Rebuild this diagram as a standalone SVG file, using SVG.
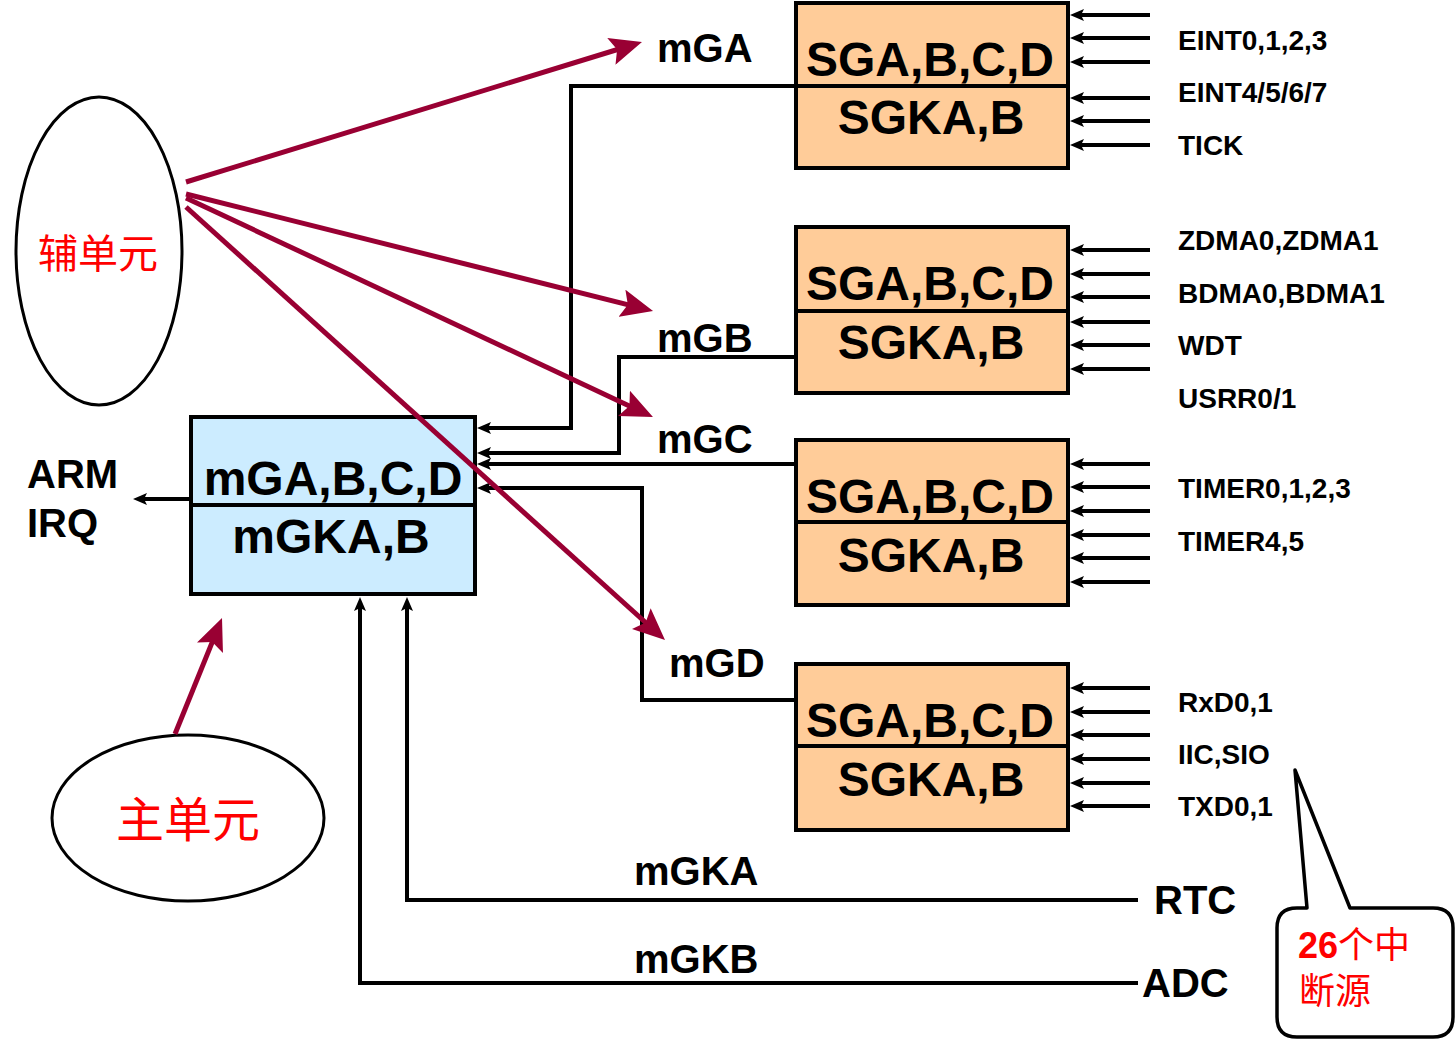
<svg xmlns="http://www.w3.org/2000/svg" width="1455" height="1040" viewBox="0 0 1455 1040">
<style>
.bx{fill:#FFCC99;stroke:#000;stroke-width:4}
.bb{fill:#CCECFF;stroke:#000;stroke-width:4}
.ln{fill:none;stroke:#000;stroke-width:4}
.rl{fill:none;stroke:#990033;stroke-width:5}
.t{font-family:"Liberation Sans",Arial,sans-serif;font-weight:bold;fill:#000}
.big{font-size:48px;text-anchor:middle}
.lab{font-size:40px}
.sig{font-size:28px}
.cj{font-family:"Noto Sans CJK SC",sans-serif;fill:#FF0000}
</style>
<defs>
<marker id="ab" viewBox="0 0 14 12" refX="6" refY="6" markerWidth="14" markerHeight="12" markerUnits="userSpaceOnUse" orient="auto"><path d="M0,0 L14,6 L0,12 L3,6 z" fill="#000"/></marker>
<marker id="ar" viewBox="0 0 32 28" refX="20" refY="14" markerWidth="32" markerHeight="28" markerUnits="userSpaceOnUse" orient="auto"><path d="M0,0 L32,14 L0,28 L6,14 z" fill="#990033"/></marker>
</defs>

<g id="box1">
<rect class="bx" x="796" y="3" width="272" height="165"/>
<line class="ln" x1="796" y1="86" x2="1068" y2="86"/>
<text class="t big" x="930" y="76">SGA,B,C,D</text>
<text class="t big" x="931" y="134">SGKA,B</text>
</g>
<g id="box2">
<rect class="bx" x="796" y="227" width="272" height="166"/>
<line class="ln" x1="796" y1="311" x2="1068" y2="311"/>
<text class="t big" x="930" y="300">SGA,B,C,D</text>
<text class="t big" x="931" y="359">SGKA,B</text>
</g>
<g id="box3">
<rect class="bx" x="796" y="440" width="272" height="165"/>
<line class="ln" x1="796" y1="522" x2="1068" y2="522"/>
<text class="t big" x="930" y="513">SGA,B,C,D</text>
<text class="t big" x="931" y="572">SGKA,B</text>
</g>
<g id="box4">
<rect class="bx" x="796" y="664" width="272" height="166"/>
<line class="ln" x1="796" y1="746" x2="1068" y2="746"/>
<text class="t big" x="930" y="737">SGA,B,C,D</text>
<text class="t big" x="931" y="796">SGKA,B</text>
</g>

<g id="main">
<rect class="bb" x="191" y="417" width="284" height="177"/>
<line class="ln" x1="191" y1="505" x2="477" y2="505"/>
<text class="t big" x="333" y="495">mGA,B,C,D</text>
<text class="t big" x="331" y="553">mGKA,B</text>
</g>

<g id="fu">
<ellipse cx="99" cy="251" rx="83" ry="154" fill="#fff" stroke="#000" stroke-width="3"/>
<text class="cj" x="98" y="268" font-size="40" text-anchor="middle">辅单元</text>
</g>
<g id="zhu">
<ellipse cx="188" cy="818" rx="136" ry="83" fill="#fff" stroke="#000" stroke-width="3"/>
<text class="cj" x="188" y="837" font-size="48" text-anchor="middle">主单元</text>
</g>

<g id="callout">
<path d="M1297,908 L1307,908 L1295,770 L1350,908 L1433,908 Q1453,908 1453,928 L1453,1017 Q1453,1037 1433,1037 L1297,1037 Q1277,1037 1277,1017 L1277,928 Q1277,908 1297,908 z" fill="#fff" stroke="#000" stroke-width="3.5" stroke-linejoin="round"/>
<text x="1298" y="958" font-size="36" fill="#FF0000"><tspan font-family="Liberation Sans,Arial,sans-serif" font-weight="bold">26</tspan><tspan font-family="Noto Sans CJK SC,sans-serif">个中</tspan></text>
<text class="cj" x="1299" y="1004" font-size="36">断源</text>
</g>

<g id="labels">
<text class="t lab" x="27" y="488">ARM</text>
<text class="t lab" x="27" y="537">IRQ</text>
<text class="t lab" x="657" y="62">mGA</text>
<text class="t lab" x="657" y="352">mGB</text>
<text class="t lab" x="657" y="453">mGC</text>
<text class="t lab" x="669" y="677">mGD</text>
<text class="t lab" x="634" y="885">mGKA</text>
<text class="t lab" x="634" y="973">mGKB</text>
<text class="t lab" x="1154" y="914">RTC</text>
<text class="t lab" x="1142" y="997">ADC</text>
<text class="t sig" x="1178" y="50">EINT0,1,2,3</text>
<text class="t sig" x="1178" y="102">EINT4/5/6/7</text>
<text class="t sig" x="1178" y="155">TICK</text>
<text class="t sig" x="1178" y="250">ZDMA0,ZDMA1</text>
<text class="t sig" x="1178" y="303">BDMA0,BDMA1</text>
<text class="t sig" x="1178" y="355">WDT</text>
<text class="t sig" x="1178" y="408">USRR0/1</text>
<text class="t sig" x="1178" y="498">TIMER0,1,2,3</text>
<text class="t sig" x="1178" y="551">TIMER4,5</text>
<text class="t sig" x="1178" y="712">RxD0,1</text>
<text class="t sig" x="1178" y="764">IIC,SIO</text>
<text class="t sig" x="1178" y="816">TXD0,1</text>
</g>

<g id="connectors">
<g class="ln" marker-end="url(#ab)">
<line x1="1150" y1="15" x2="1078" y2="15"/>
<line x1="1150" y1="38" x2="1078" y2="38"/>
<line x1="1150" y1="62" x2="1078" y2="62"/>
<line x1="1150" y1="98" x2="1078" y2="98"/>
<line x1="1150" y1="121" x2="1078" y2="121"/>
<line x1="1150" y1="145" x2="1078" y2="145"/>
<line x1="1150" y1="250" x2="1078" y2="250"/>
<line x1="1150" y1="274" x2="1078" y2="274"/>
<line x1="1150" y1="297" x2="1078" y2="297"/>
<line x1="1150" y1="322" x2="1078" y2="322"/>
<line x1="1150" y1="345" x2="1078" y2="345"/>
<line x1="1150" y1="369" x2="1078" y2="369"/>
<line x1="1150" y1="464" x2="1078" y2="464"/>
<line x1="1150" y1="487" x2="1078" y2="487"/>
<line x1="1150" y1="511" x2="1078" y2="511"/>
<line x1="1150" y1="535" x2="1078" y2="535"/>
<line x1="1150" y1="558" x2="1078" y2="558"/>
<line x1="1150" y1="582" x2="1078" y2="582"/>
<line x1="1150" y1="688" x2="1078" y2="688"/>
<line x1="1150" y1="712" x2="1078" y2="712"/>
<line x1="1150" y1="735" x2="1078" y2="735"/>
<line x1="1150" y1="759" x2="1078" y2="759"/>
<line x1="1150" y1="783" x2="1078" y2="783"/>
<line x1="1150" y1="806" x2="1078" y2="806"/>
<polyline points="796,86 571,86 571,428 485,428"/>
<polyline points="796,357 619,357 619,453 485,453"/>
<polyline points="796,464 485,464"/>
<polyline points="796,700 642,700 642,488 485,488"/>
<polyline points="1138,900 407,900 407,605"/>
<polyline points="1138,983 360,983 360,605"/>
<line x1="191" y1="499" x2="141" y2="499"/>
</g>
<g class="rl" marker-end="url(#ar)">
<line x1="186" y1="182" x2="630.5" y2="45.5"/>
<line x1="186" y1="194" x2="641.4" y2="308.1"/>
<line x1="186" y1="198" x2="642.1" y2="411.9"/>
<line x1="186" y1="207" x2="656.1" y2="632"/>
<line x1="175" y1="734" x2="217.5" y2="629.1"/>
</g>
</g>
</svg>
